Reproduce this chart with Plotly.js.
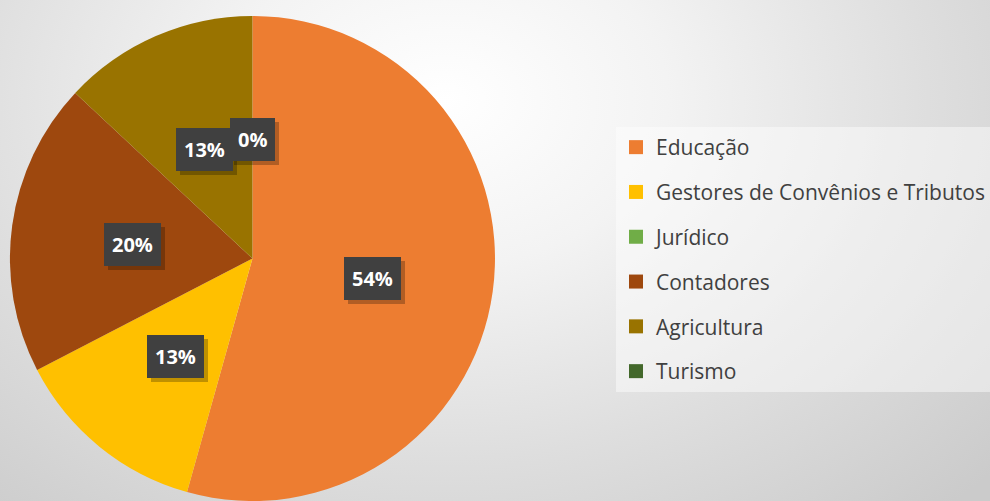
<!DOCTYPE html>
<html>
<head>
<meta charset="utf-8">
<script src="https://cdn.plot.ly/plotly-3.0.1.min.js"></script>
<style>
  html, body { margin:0; padding:0; overflow:hidden; width:990px; height:501px; }
  body { background: radial-gradient(ellipse 75% 110% at 45% 20%, #ffffff 0%, #f3f3f3 30%, #dedede 65%, #cbcbcb 100%); }
  #chart { width:990px; height:503px; }
</style>
</head>
<body>
<div id="chart"></div>
<script>
// Data
const categories = ["Educação", "Gestores de Convênios e Tributos", "Jurídico", "Contadores", "Agricultura", "Turismo"];
const values = [25, 6, 0, 9, 6, 0];
const colors = ["#ED7D31", "#FFC000", "#70AD47", "#9E480E", "#997300", "#43682B"];
const showLabel = [true, true, false, true, true, true];

const W = 990, H = 503, MT = 14;
const domX = [10 / W, 498 / W];
const total = values.reduce((a, b) => a + b, 0);

// Label annotations placed along each slice's mid-angle (computed from data)
const cx = (domX[0] + domX[1]) / 2 * W;
const plotH = H - MT;
const R = Math.min((domX[1] - domX[0]) * W, plotH) / 2;
const cy = MT + plotH / 2;
const annotations = [];
let cum = 0;
values.forEach((v, i) => {
  const mid = (cum + v / 2) / total * 2 * Math.PI;
  cum += v;
  if (!showLabel[i]) return;
  const px = cx + 0.5 * R * Math.sin(mid);
  const py = cy - 0.5 * R * Math.cos(mid) + 3;
  const txt = Math.round(v / total * 100) + '%';
  const common = {
    xref: 'paper', yref: 'paper', showarrow: false,
    xanchor: 'center', yanchor: 'middle', borderpad: 8, borderwidth: 0,
    text: '<b>' + txt + '</b>'
  };
  annotations.push(Object.assign({}, common, {
    x: (px + 4) / W, y: (H - py - 4) / plotH,
    bgcolor: 'rgba(0,0,0,0.25)',
    font: { family: 'Open Sans', size: 20, color: 'rgba(0,0,0,0)' }
  }));
  annotations.push(Object.assign({}, common, {
    x: px / W, y: (H - py) / plotH,
    bgcolor: '#404040',
    font: { family: 'Open Sans', size: 20, color: '#ffffff' }
  }));
});

const pie = {
  type: 'pie',
  labels: categories,
  values: values,
  sort: false,
  direction: 'clockwise',
  rotation: 0,
  textinfo: 'none',
  hoverinfo: 'label+percent',
  showlegend: false,
  marker: { colors: colors, line: { width: 0 } },
  domain: { x: domX, y: [0, 1] }
};

// Legend entries (one per category, same colours as the slices)
const legendTraces = categories.map((c, i) => ({
  type: 'scatter', mode: 'markers',
  x: [null], y: [null],
  name: c,
  legendgroup: 'g' + i,
  marker: { symbol: 'square', size: 14, color: colors[i] },
  hoverinfo: 'skip'
}));

const layout = {
  width: W, height: H,
  margin: { l: 0, r: 0, t: MT, b: 0, pad: 0 },
  paper_bgcolor: 'rgba(0,0,0,0)',
  plot_bgcolor: 'rgba(0,0,0,0)',
  xaxis: { visible: false },
  yaxis: { visible: false },
  showlegend: true,
  legend: {
    x: 620 / W, xanchor: 'left',
    y: (H - 127) / plotH, yanchor: 'top',
    bgcolor: 'rgba(255,255,255,0.45)',
    borderwidth: 0,
    traceorder: 'grouped',
    tracegroupgap: 14.5,
    font: { family: 'Open Sans', size: 21, color: '#404040' },
    itemclick: false, itemdoubleclick: false
  },
  annotations: annotations
};

Plotly.newPlot('chart', [pie].concat(legendTraces), layout, { displayModeBar: false, staticPlot: true });
</script>
</body>
</html>
